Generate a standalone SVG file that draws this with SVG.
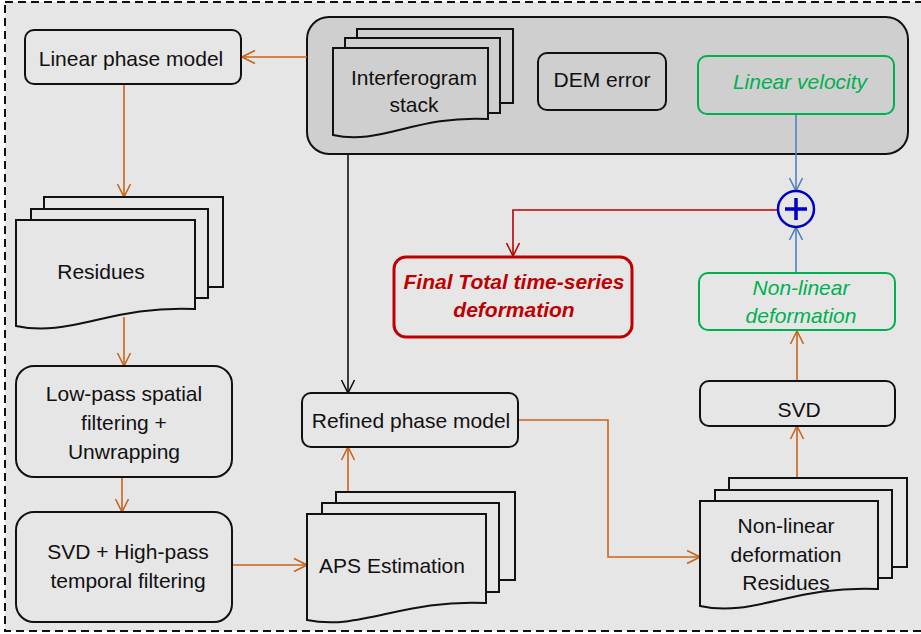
<svg xmlns="http://www.w3.org/2000/svg" width="921" height="634" viewBox="0 0 921 634">
<style>
text{font-family:"Liberation Sans",Arial,sans-serif;font-size:21px;fill:#111;text-anchor:middle}
.box{fill:#e6e6e6;stroke:#111;stroke-width:2}
.doc{fill:#e6e6e6;stroke:#111;stroke-width:2}
.gdoc{fill:#cfcfcf;stroke:#111;stroke-width:2}
.green{fill:#e6e6e6;stroke:#00b050;stroke-width:2}
.gt{fill:#00b050;font-style:italic}
.rt{fill:#c00000;font-style:italic;font-weight:bold}
.or{fill:none;stroke:#c8651b;stroke-width:1.6;marker-end:url(#ao)}
.bk{fill:none;stroke:#111;stroke-width:1.6;marker-end:url(#ak)}
.bl{fill:none;stroke:#4f81bd;stroke-width:1.6;marker-end:url(#ab)}
.rd{fill:none;stroke:#c00000;stroke-width:1.6;marker-end:url(#ar)}
</style>
<defs>
<marker id="ao" markerUnits="userSpaceOnUse" markerWidth="16" markerHeight="16" viewBox="-15 -8 16 16" refX="0" refY="0" orient="auto"><path d="M-13,-6.5 L0,0 L-13,6.5" fill="none" stroke="#c8651b" stroke-width="1.6"/></marker>
<marker id="ak" markerUnits="userSpaceOnUse" markerWidth="16" markerHeight="16" viewBox="-15 -8 16 16" refX="0" refY="0" orient="auto"><path d="M-13,-6.5 L0,0 L-13,6.5" fill="none" stroke="#111" stroke-width="1.6"/></marker>
<marker id="ab" markerUnits="userSpaceOnUse" markerWidth="16" markerHeight="16" viewBox="-15 -8 16 16" refX="0" refY="0" orient="auto"><path d="M-13,-6.5 L0,0 L-13,6.5" fill="none" stroke="#4f81bd" stroke-width="1.6"/></marker>
<marker id="ar" markerUnits="userSpaceOnUse" markerWidth="16" markerHeight="16" viewBox="-15 -8 16 16" refX="0" refY="0" orient="auto"><path d="M-13,-6.5 L0,0 L-13,6.5" fill="none" stroke="#c00000" stroke-width="1.6"/></marker>
</defs>
<rect x="0" y="0" width="921" height="634" fill="#ffffff"/>
<rect x="5" y="2" width="930" height="629" fill="#e6e6e6" stroke="#111" stroke-width="2" stroke-dasharray="8 5"/>

<g id="container">
<rect x="307" y="17" width="601" height="137" rx="22" fill="#cfcfcf" stroke="#111" stroke-width="2"/>
</g>

<g id="connectors">
<path class="or" d="M307,57 H242"/>
<path class="or" d="M124,84 V197"/>
<path class="or" d="M124,317 V366"/>
<path class="or" d="M122,477 V512"/>
<path class="or" d="M232,565 H307"/>
<path class="or" d="M348,492 V447"/>
<path class="bk" d="M348,154 V393"/>
<path class="or" d="M517,420 H608 V557 H700"/>
<path class="or" d="M797,478 V426"/>
<path class="or" d="M797,381 V331"/>
<path class="bl" d="M796,114 V191"/>
<path class="bl" d="M796,273 V227"/>
<path class="rd" d="M778,210 H513 V256"/>
</g>

<g id="linear-phase-model">
<rect class="box" x="25" y="30" width="216" height="54" rx="9"/>
<text x="131" y="66">Linear phase model</text>
</g>

<g id="interferogram-stack">
<rect class="gdoc" x="357" y="29" width="156" height="74"/>
<rect class="gdoc" x="345" y="38" width="155" height="75"/>
<path class="gdoc" d="M333,48 H488 V119 C415,115 380,146 333,135 Z"/>
<text x="414" y="85">Interferogram</text>
<text x="414" y="112">stack</text>
</g>

<g id="dem-error">
<rect class="gdoc" x="538" y="53" width="128" height="57" rx="9"/>
<text x="602" y="87">DEM error</text>
</g>

<g id="linear-velocity">
<rect x="698" y="56" width="196" height="58" rx="9" fill="#cfcfcf" stroke="#00b050" stroke-width="2"/>
<text class="gt" x="800" y="89">Linear velocity</text>
</g>

<g id="sum">
<circle cx="796" cy="209" r="18" fill="#e6e6e6" stroke="#0000c0" stroke-width="2.5"/>
<path d="M785,209 H807 M796,198 V220" stroke="#0000c0" stroke-width="3.5" fill="none"/>
</g>

<g id="final-total">
<rect x="394" y="257" width="238" height="80" rx="12" fill="#e6e6e6" stroke="#c00000" stroke-width="3"/>
<text class="rt" x="514" y="289">Final Total time-series</text>
<text class="rt" x="514" y="317">deformation</text>
</g>

<g id="non-linear-deformation">
<rect class="green" x="699" y="273" width="196" height="57" rx="9"/>
<text class="gt" x="801" y="295">Non-linear</text>
<text class="gt" x="801" y="323">deformation</text>
</g>

<g id="residues">
<rect class="doc" x="44" y="197" width="179" height="90"/>
<rect class="doc" x="31" y="209" width="177" height="89"/>
<path class="doc" d="M16,220 H195 V309 C111,305 70,338 16,326 Z"/>
<text x="101" y="279">Residues</text>
</g>

<g id="low-pass">
<rect class="box" x="16" y="366" width="216" height="111" rx="18"/>
<text x="124" y="401">Low-pass spatial</text>
<text x="124" y="430">filtering +</text>
<text x="124" y="459">Unwrapping</text>
</g>

<g id="svd-high-pass">
<rect class="box" x="16" y="512" width="216" height="110" rx="18"/>
<text x="128" y="559">SVD + High-pass</text>
<text x="128" y="588">temporal filtering</text>
</g>

<g id="refined-phase-model">
<rect class="box" x="302" y="393" width="216" height="54" rx="9"/>
<text x="411" y="428">Refined phase model</text>
</g>

<g id="aps-estimation">
<rect class="doc" x="336" y="492" width="179" height="88"/>
<rect class="doc" x="322" y="503" width="177" height="89"/>
<path class="doc" d="M307,514 H486 V603 C402,599 361,631 307,620 Z"/>
<text x="392" y="573">APS Estimation</text>
</g>

<g id="svd">
<rect class="box" x="700" y="381" width="195" height="45" rx="9"/>
<text x="799" y="417">SVD</text>
</g>

<g id="non-linear-residues">
<rect class="doc" x="729" y="478" width="178" height="89"/>
<rect class="doc" x="715" y="490" width="177" height="88"/>
<path class="doc" d="M700,501 H878 V589 C794,585 753,618 700,606 Z"/>
<text x="786" y="533">Non-linear</text>
<text x="786" y="562">deformation</text>
<text x="786" y="590">Residues</text>
</g>
</svg>
